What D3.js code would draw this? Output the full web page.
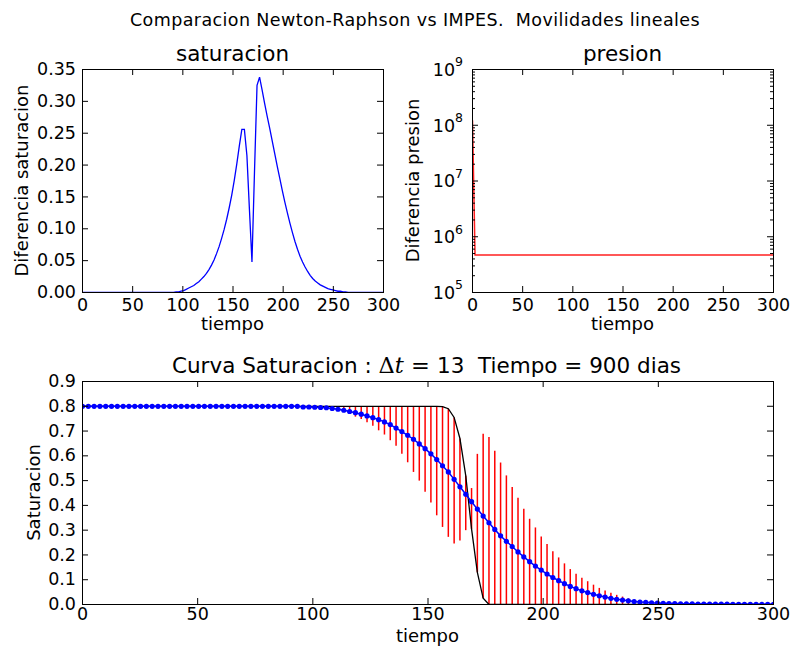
<!DOCTYPE html>
<html>
<head>
<meta charset="utf-8">
<script src="https://cdn.jsdelivr.net/npm/d3@7"></script>
<style>
  body { margin: 0; background: #fff; }
  text { font-family: "DejaVu Sans", sans-serif; fill: #000; }
</style>
</head>
<body>
<div id="chart"></div>
<script>
// Grid of 120 cells between 0 and 300
var nCells = 120;
var tiempo = d3.range(nCells).map(i => i * 300 / (nCells - 1));

// Diferencia saturacion (top left)
var difSaturacion = [
  0, 0, 0, 0, 0, 0, 0, 0, 0, 0,
  0, 0, 0, 0, 0, 0, 0, 0, 0, 0,
  0, 0, 0, 0, 0, 0, 0, 0, 0, 0,
  0, 0, 0, 0, 0, 0, 0, 0.001, 0.001, 0.002,
  0.003, 0.005, 0.007, 0.009, 0.011, 0.014, 0.017, 0.021, 0.025, 0.030,
  0.036, 0.043, 0.051, 0.061, 0.072, 0.085, 0.099, 0.115, 0.133, 0.153,
  0.176, 0.202, 0.230, 0.256, 0.256, 0.215, 0.130, 0.048, 0.190, 0.325,
  0.338, 0.318, 0.297, 0.277, 0.258, 0.238, 0.218, 0.198, 0.179, 0.160,
  0.142, 0.125, 0.109, 0.094, 0.080, 0.068, 0.057, 0.048, 0.040, 0.033,
  0.027, 0.022, 0.018, 0.015, 0.012, 0.010, 0.008, 0.006, 0.005, 0.004,
  0.003, 0.002, 0.002, 0.001, 0.001, 0, 0, 0, 0, 0,
  0, 0, 0, 0, 0, 0, 0, 0, 0, 0
];

// Diferencia presion (top right, log scale)
var difPresion = [
  1.2e8, 4.6e5, 4.6e5, 4.6e5, 4.6e5, 4.6e5, 4.6e5, 4.6e5, 4.6e5, 4.6e5,
  4.6e5, 4.6e5, 4.6e5, 4.6e5, 4.6e5, 4.6e5, 4.6e5, 4.6e5, 4.6e5, 4.6e5,
  4.6e5, 4.6e5, 4.6e5, 4.6e5, 4.6e5, 4.6e5, 4.6e5, 4.6e5, 4.6e5, 4.6e5,
  4.6e5, 4.6e5, 4.6e5, 4.6e5, 4.6e5, 4.6e5, 4.6e5, 4.6e5, 4.6e5, 4.6e5,
  4.6e5, 4.6e5, 4.6e5, 4.6e5, 4.6e5, 4.6e5, 4.6e5, 4.6e5, 4.6e5, 4.6e5,
  4.6e5, 4.6e5, 4.6e5, 4.6e5, 4.6e5, 4.6e5, 4.6e5, 4.6e5, 4.6e5, 4.6e5,
  4.6e5, 4.6e5, 4.6e5, 4.6e5, 4.6e5, 4.6e5, 4.6e5, 4.6e5, 4.6e5, 4.6e5,
  4.6e5, 4.6e5, 4.6e5, 4.6e5, 4.6e5, 4.6e5, 4.6e5, 4.6e5, 4.6e5, 4.6e5,
  4.6e5, 4.6e5, 4.6e5, 4.6e5, 4.6e5, 4.6e5, 4.6e5, 4.6e5, 4.6e5, 4.6e5,
  4.6e5, 4.6e5, 4.6e5, 4.6e5, 4.6e5, 4.6e5, 4.6e5, 4.6e5, 4.6e5, 4.6e5,
  4.6e5, 4.6e5, 4.6e5, 4.6e5, 4.6e5, 4.6e5, 4.6e5, 4.6e5, 4.6e5, 4.6e5,
  4.6e5, 4.6e5, 4.6e5, 4.6e5, 4.6e5, 4.6e5, 4.6e5, 4.6e5, 4.6e5, 4.6e5
];

// Saturacion IMPES (blue dots)
var satIMPES = [
  0.8, 0.8, 0.8, 0.8, 0.8, 0.8, 0.8, 0.8, 0.8, 0.8,
  0.8, 0.8, 0.8, 0.8, 0.8, 0.8, 0.8, 0.8, 0.8, 0.8,
  0.8, 0.8, 0.8, 0.8, 0.8, 0.8, 0.8, 0.8, 0.8, 0.8,
  0.8, 0.8, 0.8, 0.8, 0.8, 0.8, 0.8, 0.8, 0.797, 0.797,
  0.796, 0.795, 0.794, 0.791, 0.788, 0.784, 0.779, 0.774, 0.768, 0.761,
  0.754, 0.746, 0.737, 0.726, 0.712, 0.698, 0.683, 0.667, 0.648, 0.629,
  0.608, 0.585, 0.560, 0.535, 0.505, 0.475, 0.445, 0.415, 0.385, 0.357,
  0.330, 0.303, 0.277, 0.255, 0.234, 0.212, 0.192, 0.173, 0.155, 0.139,
  0.123, 0.109, 0.096, 0.084, 0.073, 0.064, 0.055, 0.048, 0.041, 0.035,
  0.030, 0.025, 0.021, 0.018, 0.015, 0.012, 0.010, 0.009, 0.007, 0.006,
  0.005, 0.004, 0.004, 0.003, 0.003, 0.003, 0.002, 0.002, 0.002, 0.002,
  0.002, 0.002, 0.001, 0.001, 0.001, 0.001, 0.001, 0.001, 0.001, 0.001
];

// Saturacion de referencia (black curve)
var satReferencia = [
  0.8, 0.8, 0.8, 0.8, 0.8, 0.8, 0.8, 0.8, 0.8, 0.8,
  0.8, 0.8, 0.8, 0.8, 0.8, 0.8, 0.8, 0.8, 0.8, 0.8,
  0.8, 0.8, 0.8, 0.8, 0.8, 0.8, 0.8, 0.8, 0.8, 0.8,
  0.8, 0.8, 0.8, 0.8, 0.8, 0.8, 0.8, 0.8, 0.8, 0.8,
  0.8, 0.8, 0.8, 0.8, 0.8, 0.8, 0.8, 0.8, 0.8, 0.8,
  0.8, 0.8, 0.8, 0.8, 0.8, 0.8, 0.8, 0.8, 0.8, 0.8,
  0.8, 0.8, 0.799, 0.790, 0.755, 0.670, 0.520, 0.305, 0.130, 0.025,
  0, 0, 0, 0, 0, 0, 0, 0, 0, 0,
  0, 0, 0, 0, 0, 0, 0, 0, 0, 0,
  0, 0, 0, 0, 0, 0, 0, 0, 0, 0,
  0, 0, 0, 0, 0, 0, 0, 0, 0, 0,
  0, 0, 0, 0, 0, 0, 0, 0, 0, 0
];

// Saturacion Newton-Raphson (other end of the red segments)
var satNR = [
  0.8, 0.8, 0.8, 0.8, 0.8, 0.8, 0.8, 0.8, 0.8, 0.8,
  0.8, 0.8, 0.8, 0.8, 0.8, 0.8, 0.8, 0.8, 0.8, 0.8,
  0.8, 0.8, 0.8, 0.8, 0.8, 0.8, 0.8, 0.8, 0.8, 0.8,
  0.8, 0.8, 0.8, 0.8, 0.8, 0.8, 0.8, 0.8, 0.8, 0.8,
  0.8, 0.8, 0.799, 0.797, 0.792, 0.783, 0.770, 0.758, 0.749, 0.736,
  0.721, 0.703, 0.686, 0.663, 0.641, 0.608, 0.574, 0.535, 0.500, 0.455,
  0.412, 0.360, 0.313, 0.273, 0.246, 0.258, 0.300, 0.470, 0.608, 0.689,
  0.676, 0.621, 0.573, 0.521, 0.474, 0.431, 0.386, 0.346, 0.311, 0.274,
  0.244, 0.215, 0.190, 0.166, 0.143, 0.124, 0.108, 0.094, 0.080, 0.067,
  0.056, 0.047, 0.039, 0.032, 0.025, 0.019, 0.015, 0.011, 0.008, 0.006,
  0.004, 0.003, 0.002, 0.001, 0.001, 0, 0, 0, 0, 0,
  0, 0, 0, 0, 0, 0, 0, 0, 0, 0
];

var xTicks = [0, 50, 100, 150, 200, 250, 300];
var satTicks = [0, 0.05, 0.1, 0.15, 0.2, 0.25, 0.3, 0.35];
var presTicks = [1e5, 1e6, 1e7, 1e8, 1e9];
var curvaTicks = [0, 0.1, 0.2, 0.3, 0.4, 0.5, 0.6, 0.7, 0.8, 0.9];

var svgWidth = 791, svgHeight = 646;
var tickFont = 17.5;

var svg = d3.select("#chart")
  .append("svg")
  .attr("width", svgWidth)
  .attr("height", svgHeight);

svg.append("rect").attr("width", svgWidth).attr("height", svgHeight).attr("fill", "#fff");

// Draw a matplotlib-like frame with inward ticks on all four sides
function drawFrame(g, x, y, w, h, opts) {
  g.append("g")
    .attr("transform", `translate(0,${h})`)
    .call(d3.axisBottom(x).tickValues(opts.xTicks).tickSizeInner(-6).tickSizeOuter(0)
      .tickPadding(opts.xPad).tickFormat(d3.format("d")));
  g.append("g")
    .call(d3.axisTop(x).tickValues(opts.xTicks).tickSizeInner(-6).tickSizeOuter(0).tickFormat(""));
  g.append("g")
    .call(d3.axisLeft(y).tickValues(opts.yTicks).tickSizeInner(-6).tickSizeOuter(0)
      .tickPadding(6).tickFormat(opts.yFormat));
  g.append("g")
    .attr("transform", `translate(${w},0)`)
    .call(d3.axisRight(y).tickValues(opts.yTicks).tickSizeInner(-6).tickSizeOuter(0).tickFormat(""));

  g.selectAll(".domain").remove();
  g.selectAll(".tick line").attr("stroke", "#000");
  g.selectAll(".tick text")
    .attr("font-size", tickFont)
    .attr("font-family", '"DejaVu Sans", sans-serif')
    .attr("fill", "#000");

  g.append("rect")
    .attr("x", 0.5).attr("y", 0.5)
    .attr("width", w).attr("height", h)
    .attr("fill", "none")
    .attr("stroke", "#000")
    .attr("stroke-width", 1);
}

function addClip(id, w, h) {
  svg.append("clipPath").attr("id", id)
    .append("rect").attr("width", w + 1).attr("height", h + 1);
}

/**
 * Suptitle
 */
svg.append("text")
  .attr("x", 415)
  .attr("y", 26)
  .attr("text-anchor", "middle")
  .attr("font-size", 17.5)
  .attr("letter-spacing", 0.4)
  .style("white-space", "pre")
  .text("Comparacion Newton-Raphson vs IMPES.  Movilidades lineales");

/**
 * Top left: saturacion
 */
var tl = { left: 82, top: 69, w: 301, h: 223 };
var tlGroup = svg.append("g").attr("transform", `translate(${tl.left},${tl.top})`);
var xTL = d3.scaleLinear().domain([0, 300]).range([0, tl.w]);
var yTL = d3.scaleLinear().domain([0, 0.35]).range([tl.h, 0]);
addClip("clipTL", tl.w, tl.h);

tlGroup.append("path")
  .attr("clip-path", "url(#clipTL)")
  .attr("d", d3.line().x((d, i) => xTL(tiempo[i]) + 0.5).y(d => yTL(d) + 0.5)(difSaturacion))
  .attr("fill", "none")
  .attr("stroke", "#0000ff")
  .attr("stroke-width", 1.3);

drawFrame(tlGroup, xTL, yTL, tl.w, tl.h, {
  xTicks: xTicks, yTicks: satTicks, xPad: 6.5, yFormat: d3.format(".2f")
});

tlGroup.append("text")
  .attr("x", tl.w / 2).attr("y", -8)
  .attr("text-anchor", "middle").attr("font-size", 21.5)
  .text("saturacion");
tlGroup.append("text")
  .attr("x", tl.w / 2).attr("y", tl.h + 38)
  .attr("text-anchor", "middle").attr("font-size", 18)
  .text("tiempo");
tlGroup.append("text")
  .attr("transform", "rotate(-90)")
  .attr("x", -tl.h / 2).attr("y", -54)
  .attr("text-anchor", "middle").attr("font-size", 18)
  .text("Diferencia saturacion");

/**
 * Top right: presion (log)
 */
var tr = { left: 472, top: 69, w: 301, h: 223 };
var trGroup = svg.append("g").attr("transform", `translate(${tr.left},${tr.top})`);
var xTR = d3.scaleLinear().domain([0, 300]).range([0, tr.w]);
var yTR = d3.scaleLog().domain([1e5, 1e9]).range([tr.h, 0]);
addClip("clipTR", tr.w, tr.h);

trGroup.append("path")
  .attr("clip-path", "url(#clipTR)")
  .attr("d", d3.line().x((d, i) => xTR(tiempo[i]) + 0.5).y(d => yTR(d))(difPresion))
  .attr("fill", "none")
  .attr("stroke", "#ff2020")
  .attr("stroke-width", 1.5);

drawFrame(trGroup, xTR, yTR, tr.w, tr.h, {
  xTicks: xTicks, yTicks: presTicks, xPad: 6.5, yFormat: () => ""
});

// minor log ticks
var minorTicks = [];
[1e5, 1e6, 1e7, 1e8].forEach(function(base) {
  for (var k = 2; k <= 9; k++) minorTicks.push(base * k);
});
trGroup.append("g")
  .call(d3.axisLeft(yTR).tickValues(minorTicks).tickSizeInner(-3).tickSizeOuter(0).tickFormat(""));
trGroup.append("g")
  .attr("transform", `translate(${tr.w},0)`)
  .call(d3.axisRight(yTR).tickValues(minorTicks).tickSizeInner(-3).tickSizeOuter(0).tickFormat(""));
trGroup.selectAll(".domain").remove();
trGroup.selectAll(".tick line").attr("stroke", "#000");

// 10^n labels
presTicks.forEach(function(v) {
  var lbl = trGroup.append("text")
    .attr("x", -9)
    .attr("y", yTR(v) + 0.5)
    .attr("dy", "0.36em")
    .attr("text-anchor", "end")
    .attr("font-size", tickFont);
  lbl.append("tspan").text("10");
  lbl.append("tspan")
    .attr("font-size", 12.5)
    .attr("dy", "-0.75em")
    .text(Math.round(Math.log10(v)));
});

trGroup.append("text")
  .attr("x", tr.w / 2).attr("y", -8)
  .attr("text-anchor", "middle").attr("font-size", 21.5)
  .text("presion");
trGroup.append("text")
  .attr("x", tr.w / 2).attr("y", tr.h + 38)
  .attr("text-anchor", "middle").attr("font-size", 18)
  .text("tiempo");
trGroup.append("text")
  .attr("transform", "rotate(-90)")
  .attr("x", -tr.h / 2).attr("y", -53)
  .attr("text-anchor", "middle").attr("font-size", 18)
  .text("Diferencia presion");

/**
 * Bottom: Curva Saturacion
 */
var bt = { left: 82, top: 381, w: 691, h: 223 };
var btGroup = svg.append("g").attr("transform", `translate(${bt.left},${bt.top})`);
var xB = d3.scaleLinear().domain([0, 300]).range([0, bt.w]);
var yB = d3.scaleLinear().domain([0, 0.9]).range([bt.h, 0]);
addClip("clipB", bt.w, bt.h);

var plotB = btGroup.append("g").attr("clip-path", "url(#clipB)");
var idx = d3.range(nCells);

// red segments between the reference curve and Newton-Raphson
plotB.selectAll("line.seg")
  .data(idx.filter(i => Math.abs(satNR[i] - satReferencia[i]) > 0.0005))
  .enter()
  .append("line")
  .attr("class", "seg")
  .attr("x1", i => xB(tiempo[i]) + 0.5)
  .attr("x2", i => xB(tiempo[i]) + 0.5)
  .attr("y1", i => yB(satReferencia[i]) + 0.5)
  .attr("y2", i => yB(satNR[i]) + 0.5)
  .attr("stroke", "#ff0000")
  .attr("stroke-width", 1.5);

// black reference curve
plotB.append("path")
  .attr("d", d3.line().x((d, i) => xB(tiempo[i]) + 0.5).y(d => yB(d) + 0.5)(satReferencia))
  .attr("fill", "none")
  .attr("stroke", "#000")
  .attr("stroke-width", 1.3);

// blue IMPES line with dots
plotB.append("path")
  .attr("d", d3.line().x((d, i) => xB(tiempo[i]) + 0.5).y(d => yB(d) + 0.5)(satIMPES))
  .attr("fill", "none")
  .attr("stroke", "#0000ff")
  .attr("stroke-width", 1.5);

plotB.selectAll("circle")
  .data(satIMPES)
  .enter()
  .append("circle")
  .attr("cx", (d, i) => xB(tiempo[i]) + 0.5)
  .attr("cy", d => yB(d) + 0.5)
  .attr("r", 2.6)
  .attr("fill", "#0000ff");

drawFrame(btGroup, xB, yB, bt.w, bt.h, {
  xTicks: xTicks, yTicks: curvaTicks, xPad: 4, yFormat: d3.format(".1f")
});

var title = btGroup.append("text")
  .attr("x", bt.w / 2 - 1).attr("y", -8)
  .attr("text-anchor", "middle").attr("font-size", 21.5)
  .style("white-space", "pre");
title.append("tspan").text("Curva Saturacion : ");
title.append("tspan").attr("font-family", '"DejaVu Serif", serif').attr("font-size", 22.5).text("\u0394");
title.append("tspan").attr("font-family", '"DejaVu Serif", serif').attr("font-size", 22.5).attr("font-style", "italic").text("t");
title.append("tspan").attr("font-family", '"DejaVu Serif", serif').attr("font-size", 22.5).text(" = ");
title.append("tspan").text("13  Tiempo = 900 dias");

btGroup.append("text")
  .attr("x", bt.w / 2).attr("y", bt.h + 38)
  .attr("text-anchor", "middle").attr("font-size", 18)
  .text("tiempo");
btGroup.append("text")
  .attr("transform", "rotate(-90)")
  .attr("x", -bt.h / 2).attr("y", -42)
  .attr("text-anchor", "middle").attr("font-size", 18)
  .text("Saturacion");
</script>
</body>
</html>
